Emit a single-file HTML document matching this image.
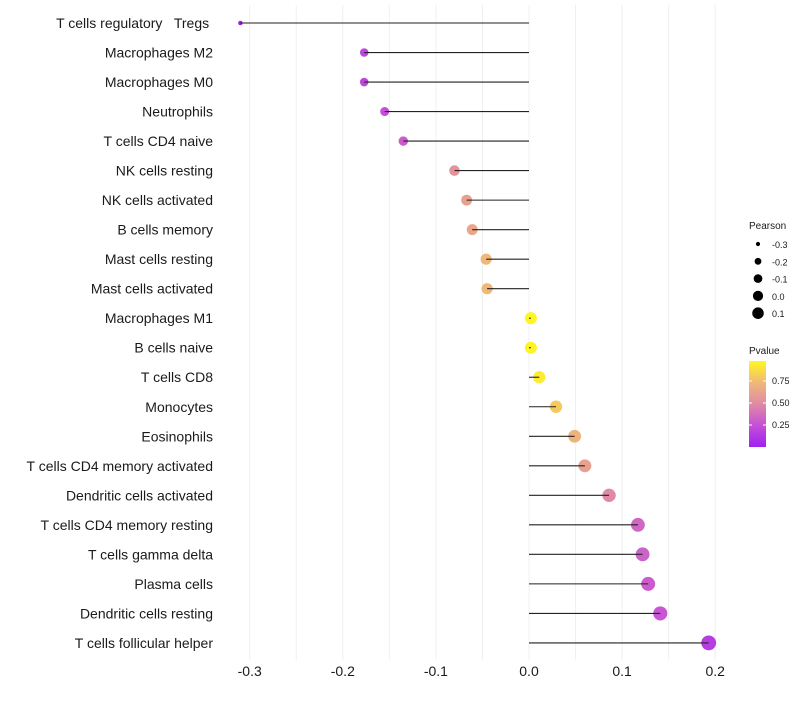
<!DOCTYPE html>
<html><head><meta charset="utf-8"><style>
body{margin:0;background:#fff;font-family:"Liberation Sans",sans-serif}
text{white-space:pre}
</style></head><body>
<svg id="chart" width="800" height="700" xmlns="http://www.w3.org/2000/svg"></svg>
<script>
const categories=["T cells regulatory   Tregs ","Macrophages M2","Macrophages M0","Neutrophils","T cells CD4 naive","NK cells resting","NK cells activated","B cells memory","Mast cells resting","Mast cells activated","Macrophages M1","B cells naive","T cells CD8","Monocytes","Eosinophils","T cells CD4 memory activated","Dendritic cells activated","T cells CD4 memory resting","T cells gamma delta","Plasma cells","Dendritic cells resting","T cells follicular helper"];
const pearson=[-0.31,-0.177,-0.177,-0.155,-0.135,-0.08,-0.067,-0.061,-0.046,-0.045,0.002,0.002,0.011,0.029,0.049,0.06,0.086,0.117,0.122,0.128,0.141,0.193];
const pvalues=[0.0,0.2,0.2,0.25,0.3,0.55,0.62,0.65,0.75,0.75,0.99,0.98,0.95,0.82,0.72,0.62,0.5,0.35,0.33,0.3,0.28,0.15];
const xTicks=[-0.3,-0.2,-0.1,0.0,0.1,0.2];
const xTickLabels=["-0.3","-0.2","-0.1","0.0","0.1","0.2"];
const sizeLegend=[-0.3,-0.2,-0.1,0.0,0.1];
const colorLegend=[0.25,0.5,0.75];

const NS="http://www.w3.org/2000/svg";
const svg=document.getElementById('chart');
const x=v=>529+v*931;
const y=i=>23+i*29.52;
const r=v=>Math.sqrt(5+(v+0.31)*100);
const stops=[[0,[160,32,240]],[0.25,[196,80,216]],[0.5,[224,138,165]],[0.75,[240,184,120]],[1,[255,248,30]]];
function col(p){for(let i=1;i<stops.length;i++){if(p<=stops[i][0]){const a=stops[i-1],b=stops[i],t=(p-a[0])/(b[0]-a[0]);return 'rgb('+a[1].map((c,k)=>Math.round(c+(b[1][k]-c)*t)).join(',')+')';}}return 'rgb(255,248,30)';}
function mk(t,a){const e=document.createElementNS(NS,t);for(const k in a)e.setAttribute(k,a[k]);svg.appendChild(e);return e;}

for(let v=-0.3;v<=0.2001;v+=0.05){
 const g=mk('line',{x1:x(v),x2:x(v),y1:5,y2:660,stroke:'#f0f0f0','stroke-width':1});
 
 
}
xTicks.forEach((v,i)=>{
 const t=mk('text',{x:x(v),y:676,'text-anchor':'middle','font-size':14,fill:'#1a1a1a'});
 t.textContent=xTickLabels[i];
 
 
});
categories.forEach((c,i)=>{
 const t=mk('text',{x:213,y:y(i)+5,'text-anchor':'end','font-size':14,fill:'#1a1a1a'});
 t.textContent=c;
 
 
 const d=mk('circle',{cx:x(pearson[i]),cy:y(i),r:r(pearson[i]),fill:col(pvalues[i])});
 
 
 const l=mk('line',{x1:x(0),x2:x(pearson[i]),y1:y(i),y2:y(i),stroke:'#222','stroke-width':1.1});
 
 
});
let lt=mk('text',{x:749,y:229,'font-size':10,fill:'#1a1a1a'});lt.textContent='Pearson';


sizeLegend.forEach((v,i)=>{
 const c=mk('circle',{cx:758,cy:244+i*17.3,r:r(v)*0.85,fill:'#000'});
 
 
 const t=mk('text',{x:772,y:248+i*17.3,'font-size':9,fill:'#1a1a1a'});t.textContent=v.toFixed(1);
 
 
});
let ct=mk('text',{x:749,y:354,'font-size':10,fill:'#1a1a1a'});ct.textContent='Pvalue';


const defs=mk('defs',{});
const grad=document.createElementNS(NS,'linearGradient');
grad.setAttribute('id','pg');grad.setAttribute('x1','0');grad.setAttribute('y1','1');grad.setAttribute('x2','0');grad.setAttribute('y2','0');
defs.appendChild(grad);
stops.forEach(s=>{const st=document.createElementNS(NS,'stop');st.setAttribute('offset',s[0]);st.setAttribute('stop-color',col(s[0]));grad.appendChild(st);});
const bar=mk('rect',{x:749,y:361,width:17,height:86,fill:'url(#pg)'});


colorLegend.forEach(v=>{
 const yy=447-v*88;
 mk('line',{x1:749,x2:752,y1:yy,y2:yy,stroke:'#fff'});
 mk('line',{x1:763,x2:766,y1:yy,y2:yy,stroke:'#fff'});
 const t=mk('text',{x:772,y:yy+3,'font-size':9,fill:'#1a1a1a'});t.textContent=v.toFixed(2);
 
 
});
</script>
</body></html>
